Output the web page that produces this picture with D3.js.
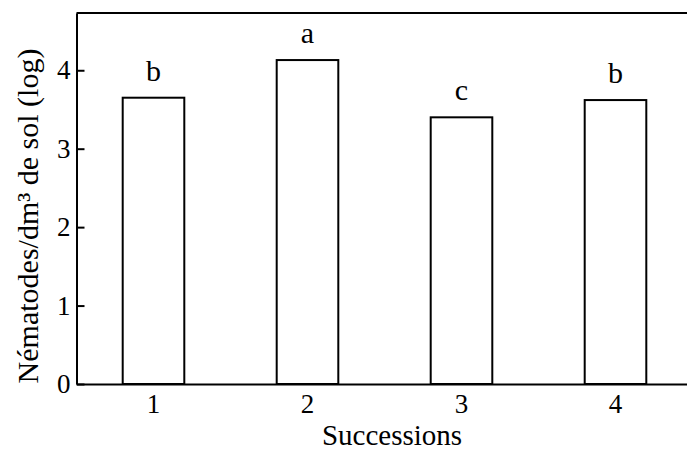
<!DOCTYPE html>
<html>
<head>
<meta charset="utf-8">
<script src="https://cdn.jsdelivr.net/npm/d3@7"></script>
<style>
  html, body { margin: 0; padding: 0; background: #fff; }
  svg { display: block; }
  text { font-family: "Liberation Serif", "DejaVu Serif", serif; fill: #000; }
</style>
</head>
<body>
<div id="chart"></div>
<script>
const categories = ["1", "2", "3", "4"];
const values = [3.65, 4.13, 3.40, 3.62];
const letters = ["b", "a", "c", "b"];
const yTicks = [0, 1, 2, 3, 4];
const yMax = 4.73;
const xTitle = "Successions";
const yTitle = "Nématodes/dm³ de sol (log)";

const W = 687, H = 450;
const mLeft = 76.5, mBottom = 384, mTop = 13;

const svg = d3.select("#chart").append("svg")
  .attr("width", W).attr("height", H);

const x = d3.scaleBand().domain(categories)
  .range([mLeft, mLeft + 4 * 154])
  .paddingInner(0.6).paddingOuter(0.3);
const y = d3.scaleLinear().domain([0, yMax]).range([mBottom, mTop]);

// bars
svg.append("g").selectAll("rect").data(categories).join("rect")
  .attr("x", d => x(d))
  .attr("y", (d, i) => y(values[i]))
  .attr("width", x.bandwidth())
  .attr("height", (d, i) => y(0) - y(values[i]))
  .attr("fill", "#fff").attr("stroke", "#000").attr("stroke-width", 2);

// significance letters
svg.append("g").selectAll("text").data(categories).join("text")
  .attr("x", d => x(d) + x.bandwidth() / 2)
  .attr("y", (d, i) => y(values[i]) - 17)
  .attr("text-anchor", "middle")
  .attr("font-size", 30)
  .text((d, i) => letters[i]);

// top border
svg.append("line")
  .attr("x1", mLeft).attr("x2", W)
  .attr("y1", y(yMax)).attr("y2", y(yMax))
  .attr("stroke", "#000").attr("stroke-width", 2);

// y axis
const gy = svg.append("g").attr("transform", `translate(${mLeft},0)`)
  .call(d3.axisLeft(y).tickValues(yTicks).tickFormat(d3.format("d"))
    .tickSizeInner(-8).tickSizeOuter(0).tickPadding(6));
gy.selectAll("text").attr("font-size", 27);
gy.selectAll("path, line").attr("stroke", "#000").attr("stroke-width", 2);
gy.attr("font-family", null);

// x axis
const gx = svg.append("g").attr("transform", `translate(0,${mBottom})`)
  .call(d3.axisBottom(x).tickSize(0).tickPadding(10));
gx.selectAll("text").attr("font-size", 27);
gx.selectAll("path").attr("stroke", "#000").attr("stroke-width", 2);
gx.attr("font-family", null);

// titles
svg.append("text")
  .attr("x", 392).attr("y", 445)
  .attr("text-anchor", "middle").attr("font-size", 29)
  .text(xTitle);

svg.append("text")
  .attr("transform", "translate(38,216) rotate(-90)")
  .attr("text-anchor", "middle").attr("font-size", 30)
  .text(yTitle);
</script>
</body>
</html>
